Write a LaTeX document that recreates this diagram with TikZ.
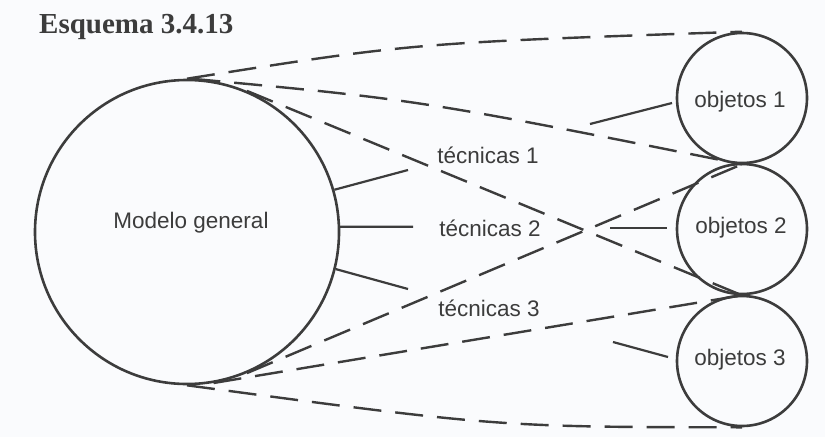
\documentclass[tikz,border=0pt]{standalone}
\usepackage{fontspec}
\setmainfont{Liberation Sans}
\newfontfamily\titlefont{Liberation Serif}
\definecolor{inkc}{HTML}{3C3C3C}
\definecolor{bgc}{HTML}{FAFBFD}
\begin{document}
\begin{tikzpicture}[x=1pt,y=-1pt,
  ink/.style={draw=inkc, line width=2.2pt},
  dsh/.style={draw=inkc, line width=2.4pt, dash pattern=on 28pt off 14pt},
  circ/.style={circle, draw=inkc, line width=2.6pt, inner sep=0pt},
  lbl/.style={text=inkc, font=\fontsize{22.5}{26}\selectfont, inner sep=0pt}]
\fill[bgc] (0,0) rectangle (825,437);
\useasboundingbox (0,0) rectangle (825,437);

\node[anchor=base west, inner sep=0pt, text=inkc,
      font=\titlefont\bfseries\fontsize{29}{32}\selectfont] (title) at (39,33) {Esquema 3.4.13};

\node[circ, minimum size=304pt] (big) at (187,232) {};
\node[circ, minimum size=130pt] (o1) at (742,98) {};
\node[circ, minimum size=130pt] (o2) at (742,229) {};
\node[circ, minimum size=130pt] (o3) at (742,361) {};

\node[lbl] (mg) at (191,223) {Modelo general};
\node[lbl] (l1) at (740,102) {objetos 1};
\node[lbl] (l2) at (741,228) {objetos 2};
\node[lbl] (l3) at (740,360) {objetos 3};
\node[lbl] (t1) at (488,155) {técnicas 1};
\node[lbl] (t2) at (490,228) {técnicas 2};
\node[lbl] (t3) at (489,308) {técnicas 3};

% dashed connectors
\draw[dsh] (big.north) .. controls (412,43) .. (o1.north);
\draw[dsh] (big.88) .. controls (420,100) .. (o1.south);
\draw[dsh] (big.67.6) -- (o2.south);
\draw[dsh] (big.-67) -- (o1.south);
\draw[dsh] (big.-80.5) -- (o2.south);
\draw[dsh] (big.south) .. controls (498,427) .. (o3.south);

% solid connectors
\coordinate (s1) at (408,170);
\coordinate (s2) at (413,226.7);
\coordinate (s3) at (408,289);
\draw[ink] (big.16) -- (s1);
\draw[ink] (big.2) -- (s2);
\draw[ink] (big.-14) -- (s3);
\coordinate (a4) at (590,124);
\coordinate (b4) at (672,103);
\coordinate (a5) at (610,228);
\coordinate (b5) at (667,228);
\coordinate (a6) at (613,342);
\coordinate (b6) at (668,357);
\draw[ink] (a4) -- (b4);
\draw[ink] (a5) -- (b5);
\draw[ink] (a6) -- (b6);
\end{tikzpicture}
\end{document}
